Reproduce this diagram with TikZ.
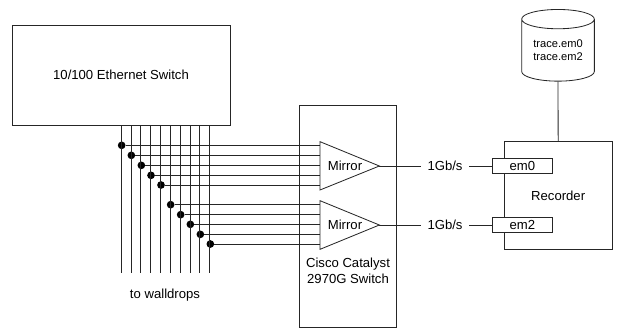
\documentclass[tikz,border=0pt]{standalone}
\usepackage{fontspec}
\setmainfont{Liberation Sans}
\usetikzlibrary{shapes.geometric}
\tikzset{
  wire/.style={black!85,line width=0.7pt},
  boxnode/.style={draw=black!85,line width=0.7pt,fill=white,inner sep=0pt,font=\fontsize{11.2}{14}\selectfont},
  tapdot/.style={circle,fill=black,inner sep=0pt,minimum size=0.23cm},
  labelnode/.style={inner sep=0pt,align=center,font=\fontsize{11.2}{14}\selectfont},
  ratenode/.style={labelnode,minimum width=1.44cm,minimum height=0.5cm},
}
\begin{document}
\begin{tikzpicture}
\useasboundingbox (0.000,0.000) rectangle (18.510,-9.870);
\node[boxnode,minimum width=6.540cm,minimum height=3.000cm] (ethernet) at (3.630,-2.250) {10/100 Ethernet Switch};
\node[boxnode,minimum width=2.920cm,minimum height=6.660cm] (catalyst) at (10.440,-6.480) {};
\node[labelnode] (catalystlabel) at (10.440,-8.130) {Cisco Catalyst\\2970G Switch};
\node[boxnode,minimum width=3.230cm,minimum height=3.220cm] (recorder) at (16.745,-5.860) {Recorder};
\node[boxnode,shape=cylinder,shape border rotate=90,aspect=0.39,minimum width=2.180cm,minimum height=2.150cm,
  align=center,font=\fontsize{9.5}{11.3}\selectfont] (disk) at (16.740,-1.510) {trace.em0\\trace.em2};
\node[labelnode] (walldrops) at (4.950,-8.850) {to walldrops};
\draw[wire] (disk.south) -- (recorder.north);
% taps from the switch
\node[tapdot] (d1) at (3.650,-4.360) {};
\node[tapdot] (d2) at (3.940,-4.660) {};
\node[tapdot] (d3) at (4.240,-4.960) {};
\node[tapdot] (d4) at (4.530,-5.260) {};
\node[tapdot] (d5) at (4.830,-5.550) {};
\node[tapdot] (d6) at (5.120,-6.140) {};
\node[tapdot] (d7) at (5.420,-6.440) {};
\node[tapdot] (d8) at (5.710,-6.730) {};
\node[tapdot] (d9) at (6.010,-7.030) {};
\node[tapdot] (d10) at (6.310,-7.320) {};
\coordinate (foot1) at (3.630,-8.180);
\coordinate (foot2) at (3.930,-8.180);
\coordinate (foot3) at (4.220,-8.180);
\coordinate (foot4) at (4.520,-8.180);
\coordinate (foot5) at (4.810,-8.180);
\coordinate (foot6) at (5.110,-8.180);
\coordinate (foot7) at (5.400,-8.180);
\coordinate (foot8) at (5.700,-8.180);
\coordinate (foot9) at (5.990,-8.180);
\coordinate (foot10) at (6.290,-8.180);
\draw[wire] (foot1 |- ethernet.south) -- (foot1);
\draw[wire] (foot2 |- ethernet.south) -- (foot2);
\draw[wire] (foot3 |- ethernet.south) -- (foot3);
\draw[wire] (foot4 |- ethernet.south) -- (foot4);
\draw[wire] (foot5 |- ethernet.south) -- (foot5);
\draw[wire] (foot6 |- ethernet.south) -- (foot6);
\draw[wire] (foot7 |- ethernet.south) -- (foot7);
\draw[wire] (foot8 |- ethernet.south) -- (foot8);
\draw[wire] (foot9 |- ethernet.south) -- (foot9);
\draw[wire] (foot10 |- ethernet.south) -- (foot10);
% mirror amplifiers
\coordinate (m1top) at (9.600,-4.250);
\coordinate (m1bot) at (9.600,-5.700);
\coordinate (m1tip) at (11.380,-4.980);
\coordinate (m2top) at (9.600,-6.020);
\coordinate (m2bot) at (9.600,-7.480);
\coordinate (m2tip) at (11.380,-6.750);
\draw[wire,fill=white] (m1top) -- (m1tip) -- (m1bot) -- cycle;
\draw[wire,fill=white] (m2top) -- (m2tip) -- (m2bot) -- cycle;
\node[labelnode] (mirror1) at (10.350,-4.980) {Mirror};
\node[labelnode] (mirror2) at (10.350,-6.750) {Mirror};
\draw[wire] (d1) -- (d1 -| m1top);
\draw[wire] (d2) -- (d2 -| m1top);
\draw[wire] (d3) -- (d3 -| m1top);
\draw[wire] (d4) -- (d4 -| m1top);
\draw[wire] (d5) -- (d5 -| m1top);
\draw[wire] (d6) -- (d6 -| m2top);
\draw[wire] (d7) -- (d7 -| m2top);
\draw[wire] (d8) -- (d8 -| m2top);
\draw[wire] (d9) -- (d9 -| m2top);
\draw[wire] (d10) -- (d10 -| m2top);
% outputs to the recorder
\node[boxnode,minimum width=1.780cm,minimum height=0.450cm] (em0) at (15.670,-4.980) {em0};
\node[boxnode,minimum width=1.780cm,minimum height=0.450cm] (em2) at (15.670,-6.750) {em2};
\node[ratenode] (rate1) at (13.350,-4.980) {1Gb/s};
\node[ratenode] (rate2) at (13.350,-6.750) {1Gb/s};
\draw[wire] (m1tip) -- (rate1);
\draw[wire] (rate1) -- (em0);
\draw[wire] (m2tip) -- (rate2);
\draw[wire] (rate2) -- (em2);
\end{tikzpicture}
\end{document}
